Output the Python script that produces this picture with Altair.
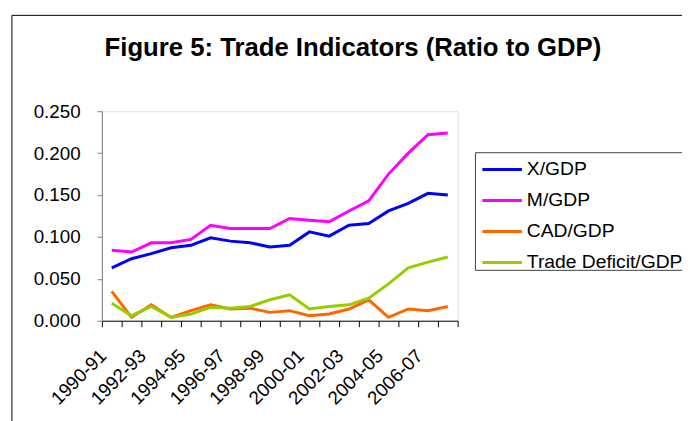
import altair as alt
import pandas as pd

years = ["1990-91", "1991-92", "1992-93", "1993-94", "1994-95", "1995-96",
         "1996-97", "1997-98", "1998-99", "1999-00", "2000-01", "2001-02",
         "2002-03", "2003-04", "2004-05", "2005-06", "2006-07", "2007-08"]
x_gdp = [0.063, 0.074, 0.080, 0.087, 0.090, 0.099, 0.095, 0.093, 0.088,
         0.090, 0.106, 0.101, 0.114, 0.116, 0.131, 0.140, 0.152, 0.150]
m_gdp = [0.084, 0.082, 0.093, 0.093, 0.097, 0.114, 0.110, 0.110, 0.110,
         0.122, 0.120, 0.118, 0.131, 0.143, 0.175, 0.200, 0.222, 0.224]
cad_gdp = [0.035, 0.004, 0.019, 0.004, 0.012, 0.019, 0.014, 0.015, 0.010,
           0.012, 0.006, 0.008, 0.014, 0.025, 0.004, 0.014, 0.012, 0.017]
td_gdp = [0.021, 0.006, 0.017, 0.004, 0.008, 0.016, 0.015, 0.017, 0.025,
          0.031, 0.014, 0.017, 0.019, 0.027, 0.044, 0.063, 0.070, 0.076]
series = ["X/GDP", "M/GDP", "CAD/GDP", "Trade Deficit/GDP"]
colors = ["#0000FF", "#FF00FF", "#FF6600", "#99CC00"]
y_ticks = [0.0, 0.05, 0.10, 0.15, 0.20, 0.25]
title_text = "Figure 5: Trade Indicators (Ratio to GDP)"

FONT = "Liberation Sans"

rows = []
for name, vals in zip(series, [x_gdp, m_gdp, cad_gdp, td_gdp]):
    for yr, v in zip(years, vals):
        rows.append({"year": yr, "value": v, "series": name})
df = pd.DataFrame(rows)
df_leg = pd.DataFrame({"series": series})
one = pd.DataFrame({"a": [0]})

color = alt.Color("series:N", scale=alt.Scale(domain=series, range=colors), legend=None)

lines = alt.Chart(df).mark_line(strokeWidth=3).encode(
    x=alt.X("year:O", sort=years,
            scale=alt.Scale(type="band", paddingInner=0, paddingOuter=0),
            axis=alt.Axis(title=None, tickBand="extent",
                          labelExpr="toNumber(substring(datum.value,0,4)) % 2 == 0 ? datum.value : ''",
                          labelAngle=-45, labelAlign="right", labelBaseline="middle",
                          labelOffset=-9, labelPadding=26, labelFontSize=19,
                          labelFont=FONT, labelColor="black", labelOverlap=False,
                          domainColor="black", tickColor="black", tickSize=6,
                          grid=False)),
    y=alt.Y("value:Q", scale=alt.Scale(domain=[0, 0.25], nice=False, zero=True),
            axis=alt.Axis(title=None, values=y_ticks, format=".3f", grid=False,
                          domainColor="#808080", tickColor="#808080", tickSize=5,
                          labelPadding=17, labelFontSize=19, labelFont=FONT,
                          labelColor="black", labelFlush=False)),
    color=color,
    detail="series:N",
)

border = alt.Chart(one).mark_rect(fillOpacity=0, stroke="black", strokeWidth=1).encode(
    x=alt.value(-91), x2=alt.value(700), y=alt.value(-97), y2=alt.value(400))

leg_box = alt.Chart(one).mark_rect(fill="white", stroke="#404040", strokeWidth=1).encode(
    x=alt.value(378), x2=alt.value(700), y=alt.value(42), y2=alt.value(161))

leg_y = alt.Y("series:N", scale=alt.Scale(type="point", domain=series, range=[59, 153], padding=0),
              axis=None)

leg_rules = alt.Chart(df_leg).mark_rule(strokeWidth=3).encode(
    x=alt.value(385), x2=alt.value(425), y=leg_y, color=color)

leg_text = alt.Chart(df_leg).mark_text(align="left", baseline="middle", fontSize=19.5,
                                       font=FONT, color="black").encode(
    x=alt.value(430), y=leg_y, text="series:N")

title = alt.Chart(one).mark_text(text=title_text, fontSize=26, fontWeight="bold", font=FONT,
                                 align="center", baseline="alphabetic", color="black").encode(
    x=alt.value(254), y=alt.value(-55.5))

chart = alt.layer(border, lines, leg_box, leg_rules, leg_text, title).resolve_scale(
    y="independent"
).properties(
    width=360, height=212,
    autosize=alt.AutoSizeParams(type="none"),
    padding={"left": 95, "top": 102, "right": 227, "bottom": 99},
).configure_view(stroke=None).configure(background="white")

chart.save("out.html", embed_options={"renderer": "svg", "actions": False})
